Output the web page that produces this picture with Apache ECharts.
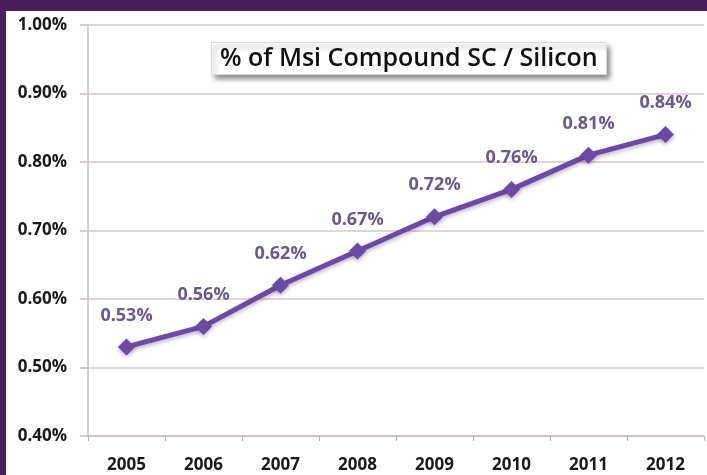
<!DOCTYPE html>
<html>
<head>
<meta charset="utf-8">
<script src="https://cdn.jsdelivr.net/npm/echarts@6/dist/echarts.min.js"></script>
<style>
  html, body { margin: 0; padding: 0; }
  body { width: 707px; height: 475px; background: #4e1d60; position: relative; overflow: hidden; }
  #chart { position: absolute; left: 6px; top: 11px; width: 701px; height: 464px; background: #ffffff; }
</style>
</head>
<body>
<div id="chart"></div>
<script>
// data
var years = ["2005", "2006", "2007", "2008", "2009", "2010", "2011", "2012"];
var shares = [0.53, 0.56, 0.62, 0.67, 0.72, 0.76, 0.81, 0.84];
var titleText = "% of Msi Compound SC / Silicon";

var myChart = echarts.init(document.getElementById("chart"));

var option = {
  animation: false,
  title: {
    text: titleText,
    left: 205,
    top: 31,
    padding: [4, 9, 4, 9],
    backgroundColor: "#ffffff",
    borderColor: "#d8d8d8",
    borderWidth: 1,
    shadowColor: "rgba(0,0,0,0.45)",
    shadowBlur: 5,
    shadowOffsetX: 3,
    shadowOffsetY: 4,
    textStyle: {
      fontFamily: "Open Sans",
      fontWeight: 600,
      fontSize: 25,
      color: "#111111",
    },
  },
  grid: {
    left: 82,
    right: 3,
    top: 14,
    bottom: 39,
  },
  xAxis: {
    type: "category",
    data: years,
    boundaryGap: true,
    axisLine: { lineStyle: { color: "#c9bfbf", width: 1.5 } },
    axisTick: { show: true, length: 5, lineStyle: { color: "#b8b0b0" } },
    axisLabel: {
      margin: 21,
      fontFamily: "Open Sans",
      fontWeight: "bold",
      fontSize: 17,
      color: "#1a1a1a",
    },
  },
  yAxis: {
    type: "value",
    min: 0.4,
    max: 1.0,
    interval: 0.1,
    axisLine: { show: true, lineStyle: { color: "#c9bfbf", width: 1.5 } },
    axisTick: { show: true, length: 8, lineStyle: { color: "#c9bfbf", width: 1.5 } },
    splitLine: { lineStyle: { color: "#d3caca", width: 1.5 } },
    axisLabel: {
      margin: 21,
      fontFamily: "Open Sans",
      fontWeight: "bold",
      fontSize: 17,
      color: "#1a1a1a",
      formatter: function (v) {
        return v.toFixed(2) + "%";
      },
    },
  },
  series: [
    {
      name: "share",
      type: "line",
      data: shares,
      symbol: "diamond",
      symbolSize: 17,
      lineStyle: {
        color: "#6b4aa3",
        width: 5,
        shadowColor: "rgba(60,30,90,0.35)",
        shadowBlur: 4,
        shadowOffsetY: 2,
      },
      itemStyle: {
        color: "#6b4aa3",
        shadowColor: "rgba(60,30,90,0.35)",
        shadowBlur: 4,
        shadowOffsetY: 2,
      },
      label: {
        show: true,
        position: "top",
        distance: 14,
        fontFamily: "Open Sans",
        fontWeight: "bold",
        fontSize: 18,
        color: "#6a5a8c",
        formatter: function (p) {
          return p.value.toFixed(2) + "%";
        },
      },
    },
  ],
};

myChart.setOption(option);
</script>
</body>
</html>
